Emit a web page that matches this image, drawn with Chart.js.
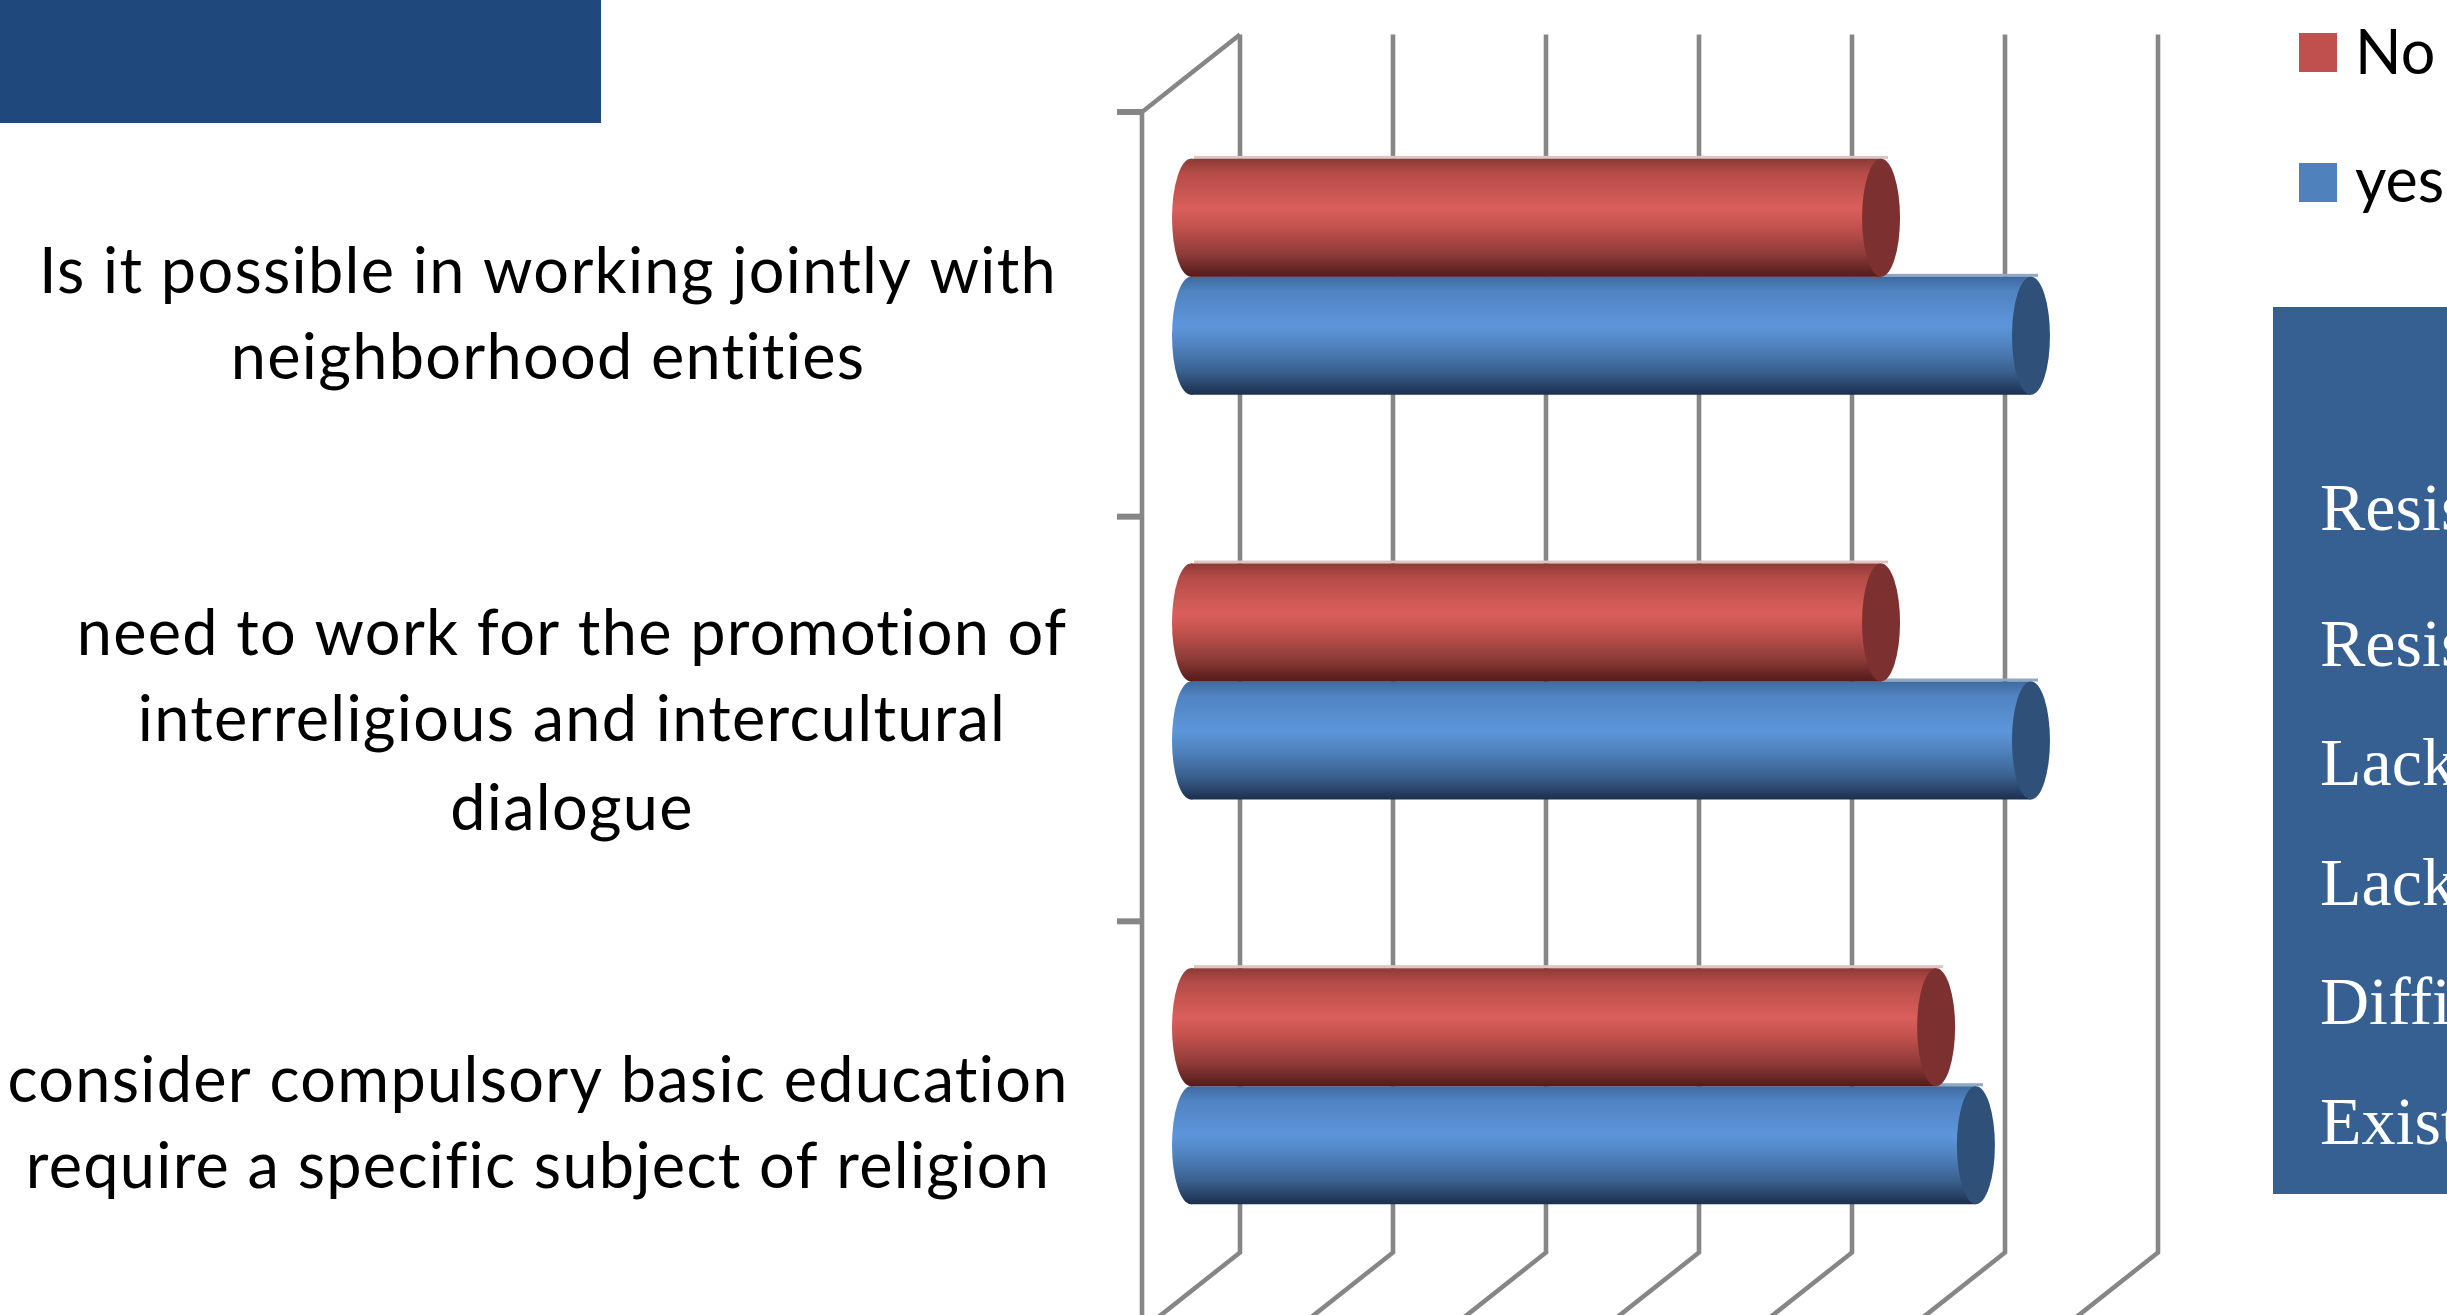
<!DOCTYPE html>
<html>
<head>
<meta charset="utf-8">
<title>Interfaith education survey</title>
<script src="https://cdn.jsdelivr.net/npm/chart.js@4"></script>
<style>
    html, body { margin: 0; padding: 0; background: #fff; overflow: hidden; }
    canvas { display: block; }
</style>
</head>
<body>
<canvas id="surveyChart" width="2447" height="1315"></canvas>
<script>
// Survey answers (percent)
const categories = [
    ['Is it possible in working jointly with', 'neighborhood entities'],
    ['need to work for the promotion of', 'interreligious and intercultural', 'dialogue'],
    ['consider compulsory basic education', 'require a specific subject of religion']
];
const noValues = [45.1, 45.1, 48.7];
const yesValues = [54.9, 54.9, 51.3];
const valueTicks = [0, 10, 20, 30, 40, 50, 60];
const sidePanelLines = ['Resis', 'Resis', 'Lack', 'Lack', 'Diffi', 'Exist'];

// Layout and styling
const depthX = 49;                   // half of the 3D box depth
const backTopOffset = 40, backBottomOffset = 36, frontOffset = 37.5, floorOffset = 41.5;
const capRadius = 19;
const gridColor = '#868686';
const labelCenters = [548, 572, 538];
const labelBaselines = [[293, 379], [655, 741, 830], [1102, 1188]];
const panelBaselines = [530, 666, 785, 905, 1024, 1144];
const legendRows = [{ top: 33, baseline: 74 }, { top: 163, baseline: 202 }];

const seriesStyles = [
    {
        legend: '#C0504D', cap: '#7C3130', fringe: '#DCC5C4',
        stops: [[0, '#8C3A37'], [0.12, '#B54B47'], [0.42, '#DA5F5B'], [0.58, '#C2514D'], [0.8, '#8F3C39'], [1, '#531B1A']]
    },
    {
        legend: '#4F81BD', cap: '#2F5179', fringe: '#8FA8C6',
        stops: [[0, '#3E6A9F'], [0.12, '#5083C2'], [0.42, '#5C96DA'], [0.58, '#5083BF'], [0.8, '#3A6190'], [1, '#1C2F4D']]
    }
];

const barFill = 0.583;

// Top-to-bottom shading that makes a bar read as a cylinder
function cylinderGradient(context) {
    const chart = context.chart;
    const y = chart.scales.y;
    if (!y || !y.ticks.length) return seriesStyles[context.datasetIndex].legend;
    const band = y.getPixelForTick(1) - y.getPixelForTick(0);
    const thickness = band * barFill / 2;
    const center = y.getPixelForTick(context.dataIndex);
    const top = context.datasetIndex === 0 ? center - thickness : center;
    const gradient = chart.ctx.createLinearGradient(0, top, 0, top + thickness);
    seriesStyles[context.datasetIndex].stops.forEach(s => gradient.addColorStop(s[0], s[1]));
    return gradient;
}

function ellipse(ctx, x, y, ry, fill) {
    ctx.fillStyle = fill;
    ctx.beginPath();
    ctx.ellipse(x, y, capRadius, ry, 0, 0, Math.PI * 2);
    ctx.fill();
}

// Box walls behind the bars: back gridlines, floor diagonals, front axis and its ticks
const boxPlugin = {
    id: 'box',
    beforeDatasetsDraw(chart) {
        const ctx = chart.ctx;
        const x = chart.scales.x, y = chart.scales.y;
        const area = chart.chartArea;
        const backTop = area.top - backTopOffset, backBottom = area.bottom - backBottomOffset;
        ctx.save();
        ctx.strokeStyle = gridColor;
        ctx.lineWidth = 4.6;
        valueTicks.forEach(v => {
            const px = x.getPixelForValue(v);
            ctx.beginPath();
            ctx.moveTo(px + depthX, backTop);
            ctx.lineTo(px + depthX, backBottom);
            ctx.lineTo(px - depthX, area.bottom + floorOffset);
            ctx.stroke();
        });
        const frontX = x.getPixelForValue(0) - depthX;
        const frontTop = area.top + frontOffset;
        ctx.beginPath();
        ctx.moveTo(x.getPixelForValue(0) + depthX, backTop);
        ctx.lineTo(frontX, frontTop);
        ctx.lineTo(frontX, area.bottom + floorOffset);
        ctx.stroke();
        const band = y.getPixelForTick(1) - y.getPixelForTick(0);
        ctx.lineWidth = 6;
        categories.forEach((c, i) => {
            const tickY = y.getPixelForTick(i) - band / 2 + frontOffset;
            ctx.beginPath();
            ctx.moveTo(frontX - 25, tickY);
            ctx.lineTo(frontX, tickY);
            ctx.stroke();
        });
        ctx.restore();
    },
    // pale top edge and rounded start of each cylinder sit under the bar body
    beforeDatasetDraw(chart, args) {
        const ctx = chart.ctx;
        const style = seriesStyles[args.index];
        chart.getDatasetMeta(args.index).data.forEach((bar, i) => {
            const top = bar.y - bar.height / 2;
            ctx.fillStyle = style.fringe;
            ctx.fillRect(bar.base + 3, top - 3, bar.x - bar.base + 4, 3);
            const fill = cylinderGradient({ chart, datasetIndex: args.index, dataIndex: i });
            ellipse(ctx, bar.base, bar.y, bar.height / 2, fill);
        });
    },
    // flat end of each cylinder
    afterDatasetDraw(chart, args) {
        const ctx = chart.ctx;
        chart.getDatasetMeta(args.index).data.forEach(bar => {
            ellipse(ctx, bar.x, bar.y, bar.height / 2, seriesStyles[args.index].cap);
        });
    }
};

// Category labels, legend and the two dark blocks either side of the chart
const annotationPlugin = {
    id: 'annotations',
    afterDraw(chart) {
        const ctx = chart.ctx;
        ctx.save();

        ctx.fillStyle = '#1F497D';
        ctx.fillRect(0, 0, 601, 123);

        ctx.fillStyle = '#000';
        ctx.font = '63px Lato';
        ctx.letterSpacing = '1.3px';
        ctx.textAlign = 'center';
        ctx.textBaseline = 'alphabetic';
        categories.forEach((lines, i) => {
            lines.forEach((line, j) => ctx.fillText(line, labelCenters[i], labelBaselines[i][j]));
        });
        ctx.letterSpacing = '0px';

        ctx.textAlign = 'left';
        ctx.font = '61px Lato';
        chart.data.datasets.forEach((ds, i) => {
            ctx.fillStyle = seriesStyles[i].legend;
            ctx.fillRect(2299, legendRows[i].top, 38, 39);
            ctx.fillStyle = '#000';
            ctx.fillText(ds.label, 2355, legendRows[i].baseline);
        });

        ctx.fillStyle = '#366092';
        ctx.fillRect(2273, 307, 174, 887);
        ctx.fillStyle = '#fff';
        ctx.font = '68px "Liberation Serif"';
        sidePanelLines.forEach((line, i) => ctx.fillText(line, 2320, panelBaselines[i]));

        ctx.restore();
    }
};

new Chart(document.getElementById('surveyChart').getContext('2d'), {
    type: 'bar',
    data: {
        labels: categories,
        datasets: [
            { label: 'No', data: noValues, backgroundColor: cylinderGradient, borderWidth: 0, barPercentage: 1, categoryPercentage: barFill },
            { label: 'yes', data: yesValues, backgroundColor: cylinderGradient, borderWidth: 0, barPercentage: 1, categoryPercentage: barFill }
        ]
    },
    options: {
        indexAxis: 'y',
        responsive: false,
        animation: false,
        layout: { padding: { left: 1191, right: 338, top: 74.5, bottom: 26.5 } },
        plugins: { legend: { display: false }, tooltip: { enabled: false } },
        scales: {
            x: { display: false, min: valueTicks[0], max: valueTicks[valueTicks.length - 1] },
            y: { display: false }
        }
    },
    plugins: [boxPlugin, annotationPlugin]
});
</script>
</body>
</html>
